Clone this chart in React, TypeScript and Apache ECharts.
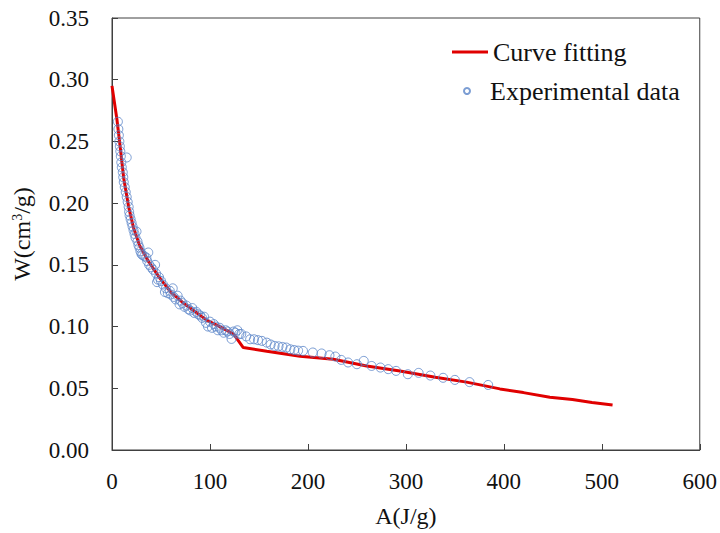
import React, { useEffect, useRef } from "react";
import * as echarts from "echarts";

const xTicks = [0, 100, 200, 300, 400, 500, 600];
const yTicks = [0, 0.05, 0.1, 0.15, 0.2, 0.25, 0.3, 0.35];

const curveA = [0, 5, 8, 12, 17, 22, 28, 37, 49, 60, 73, 85, 97, 110, 124, 134, 158, 192, 226, 260, 294, 330, 362, 396, 420, 447, 470, 490, 511];
const curveW = [0.295, 0.268, 0.248, 0.22, 0.197, 0.18, 0.166, 0.153, 0.139, 0.128, 0.119, 0.112, 0.105, 0.1, 0.094, 0.083, 0.08, 0.076, 0.0736, 0.068, 0.064, 0.059, 0.055, 0.0495, 0.0465, 0.0428, 0.041, 0.0385, 0.0365];

const expA = [6, 6.5, 7, 7.5, 8, 8.5, 9, 15, 9.5, 10, 11, 11.5, 12, 13, 14, 15, 16, 17, 17.5, 18, 19, 20, 21, 22, 25, 23, 24, 26, 27, 28, 29, 30, 31, 33, 35, 37, 36, 38, 40, 42, 44, 45, 46, 47, 48, 50, 52, 54, 55, 57, 59, 60, 62, 63, 65, 67, 69, 70, 72, 74, 76, 78, 80, 82, 84, 86, 88, 90, 92, 94, 96, 98, 100, 102, 104, 106, 108, 110, 112, 114, 116, 118, 120, 122, 124, 126, 128, 130, 132, 137, 141, 145, 149, 153, 158, 162, 166, 170, 174, 178, 182, 186, 190, 195, 205, 214, 222, 228, 234, 241, 250, 257, 265, 274, 282, 290, 302, 313, 325, 338, 350, 365, 384];
const expW = [0.266, 0.26, 0.255, 0.25, 0.246, 0.242, 0.238, 0.237, 0.233, 0.229, 0.225, 0.221, 0.217, 0.213, 0.209, 0.205, 0.201, 0.197, 0.193, 0.19, 0.187, 0.184, 0.181, 0.178, 0.177, 0.175, 0.172, 0.169, 0.166, 0.164, 0.161, 0.159, 0.158, 0.157, 0.156, 0.16, 0.153, 0.15, 0.148, 0.146, 0.15, 0.143, 0.136, 0.138, 0.14, 0.137, 0.134, 0.128, 0.131, 0.127, 0.129, 0.126, 0.131, 0.124, 0.122, 0.125, 0.118, 0.121, 0.119, 0.116, 0.117, 0.114, 0.113, 0.115, 0.111, 0.112, 0.11, 0.109, 0.107, 0.108, 0.103, 0.1, 0.104, 0.099, 0.102, 0.1, 0.097, 0.099, 0.097, 0.095, 0.097, 0.096, 0.094, 0.09, 0.096, 0.095, 0.097, 0.094, 0.094, 0.092, 0.0897, 0.0897, 0.089, 0.0884, 0.087, 0.0855, 0.0843, 0.084, 0.0835, 0.083, 0.0816, 0.081, 0.0805, 0.0803, 0.079, 0.0782, 0.0768, 0.0757, 0.073, 0.0709, 0.0695, 0.0722, 0.0681, 0.0668, 0.0655, 0.0641, 0.0614, 0.0625, 0.0603, 0.0585, 0.0568, 0.055, 0.0527];

const FONT = "'Liberation Serif', 'Times New Roman', serif";

export default function App() {
  const ref = useRef<HTMLDivElement>(null);
  useEffect(() => {
    if (!ref.current) return;
    const chart = echarts.init(ref.current, undefined, { renderer: "svg" });
    const axisColor = "#404040";
    chart.setOption({
      animation: false,
      backgroundColor: "#ffffff",
      textStyle: { fontFamily: FONT },
      grid: {
        left: 112,
        right: 20,
        top: 18,
        bottom: 82,
        show: true,
        borderColor: axisColor,
        borderWidth: 1,
      },
      legend: [
        {
          data: ["Curve fitting"],
          left: 447,
          top: 34,
          orient: "vertical",
          icon: "rect",
          itemWidth: 36,
          itemHeight: 3,
          textStyle: { fontFamily: FONT, fontSize: 26, color: "#111" },
        },
        {
          data: ["Experimental data"],
          left: 458,
          top: 73,
          orient: "vertical",
          itemWidth: 36,
          itemHeight: 6,
          textStyle: { fontFamily: FONT, fontSize: 26, color: "#111" },
        },
      ],
      xAxis: {
        type: "value",
        min: xTicks[0],
        max: xTicks[xTicks.length - 1],
        interval: 100,
        name: "A(J/g)",
        nameLocation: "middle",
        nameGap: 54,
        nameTextStyle: { fontFamily: FONT, fontSize: 24, color: "#111" },
        axisLine: { show: true, lineStyle: { color: axisColor, width: 1 } },
        axisTick: { show: true, inside: true, length: 6, lineStyle: { color: axisColor } },
        axisLabel: { fontFamily: FONT, fontSize: 23, color: "#111", margin: 20 },
        splitLine: { show: false },
      },
      yAxis: {
        type: "value",
        min: yTicks[0],
        max: yTicks[yTicks.length - 1],
        interval: 0.05,
        name: "W(cm{sup|3}/g)",
        nameLocation: "middle",
        nameGap: 78,
        nameTextStyle: {
          fontFamily: FONT,
          fontSize: 24,
          color: "#111",
          rich: {
            sup: { fontFamily: FONT, fontSize: 14, color: "#111", verticalAlign: "top", lineHeight: 24 },
          },
        },
        axisLine: { show: true, lineStyle: { color: axisColor, width: 1 } },
        axisTick: { show: true, inside: true, length: 6, lineStyle: { color: axisColor } },
        axisLabel: {
          fontFamily: FONT,
          fontSize: 23,
          color: "#111",
          margin: 23,
          formatter: (v: number) => v.toFixed(2),
        },
        splitLine: { show: false },
      },
      series: [
        {
          name: "Curve fitting",
          type: "line",
          data: curveA.map((a, i) => [a, curveW[i]]),
          symbol: "none",
          lineStyle: { color: "#e00000", width: 3 },
          itemStyle: { color: "#e00000" },
          z: 2,
        },
        {
          name: "Experimental data",
          type: "scatter",
          data: expA.map((a, i) => [a, expW[i]]),
          symbol: "circle",
          symbolSize: 9,
          itemStyle: { color: "rgba(0,0,0,0)", borderColor: "#5a84c8", borderWidth: 1 },
          z: 3,
        },
      ],
    });
    return () => chart.dispose();
  }, []);
  return <div ref={ref} style={{ position: "fixed", left: 0, top: 0, width: 720, height: 533 }} />;
}
